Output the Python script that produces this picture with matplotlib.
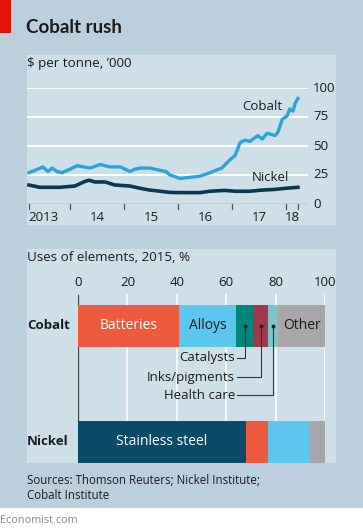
import numpy as np
import matplotlib
matplotlib.use("Agg")
import matplotlib.pyplot as plt
from matplotlib.patches import Rectangle

plt.rcParams["font.family"] = ["Open Sans", "DejaVu Sans"]

# prices, $ per tonne '000 (decimal year, value)
cobalt_t = [2013.24, 2013.35, 2013.50, 2013.59, 2013.67, 2013.76, 2013.85, 2014.00, 2014.13,
            2014.25, 2014.37, 2014.56, 2014.74, 2014.93, 2015.02, 2015.11, 2015.20, 2015.30,
            2015.48, 2015.67, 2015.78, 2015.85, 2016.04, 2016.22, 2016.41, 2016.59, 2016.81,
            2016.96, 2017.06, 2017.15, 2017.24, 2017.33, 2017.48, 2017.56, 2017.65, 2017.80,
            2017.85, 2017.93, 2018.02, 2018.07, 2018.13, 2018.17, 2018.22]
cobalt_v = [27, 29, 32, 28, 31, 28, 27, 30, 33,
            32, 31, 34, 32, 32, 30, 28, 30, 31,
            31, 29, 28, 25, 22, 23, 24, 27, 31,
            38, 42, 53, 55, 54, 59, 56, 61, 59,
            62, 73, 76, 82, 80, 87, 91]
nickel_t = [2013.24, 2013.44, 2013.81, 2014.09, 2014.28, 2014.35, 2014.46, 2014.65, 2014.83,
            2015.11, 2015.30, 2015.48, 2015.67, 2015.85, 2016.04, 2016.22, 2016.41, 2016.59,
            2016.87, 2017.06, 2017.33, 2017.56, 2017.80, 2017.98, 2018.22]
nickel_v = [16.4, 14.4, 14.4, 15.5, 19.5, 20.5, 19, 19, 16.4,
            15.5, 13.5, 12, 11, 10, 9.8, 9.8, 9.8, 11,
            11.7, 11, 11, 12, 12.6, 13.5, 14.4]
year_ticks = [2013.24, 2014, 2015, 2016, 2017, 2018, 2018.22]
year_labels = ["2013", "14", "15", "16", "17", "18"]
year_label_pos = [2013.5, 2014.5, 2015.5, 2016.5, 2017.5, 2018.11]
price_ticks = [0, 25, 50, 75, 100]

# uses of elements, 2015, %
cobalt_uses = ["Batteries", "Alloys", "Catalysts", "Inks/pigments", "Health care", "Other"]
cobalt_share = [41, 23, 7, 6, 4, 19]
nickel_uses = ["Stainless steel", "Batteries", "Alloys", "Other"]
nickel_share = [68, 9, 17, 6]
pct_ticks = [0, 20, 40, 60, 80, 100]

colors = {"Batteries": "#ee5a3e", "Alloys": "#5dc6ee", "Catalysts": "#00857a",
          "Inks/pigments": "#a3374b", "Health care": "#7cc5c9", "Other": "#a7a6a8",
          "Stainless steel": "#0c4b68"}
OUTER = "#bbd0dc"
INNER = "#cfdfe8"
TXT = "#1a1a1a"

W, H = 363, 531
fig = plt.figure(figsize=(W / 100, H / 100), dpi=100)
fig.patch.set_facecolor("white")


def box(x0, y0, x1, y1):
    return [x0 / W, 1 - y1 / H, (x1 - x0) / W, (y1 - y0) / H]


# layout layer in pixel coordinates
bg = fig.add_axes([0, 0, 1, 1])
bg.set_xlim(0, W); bg.set_ylim(H, 0); bg.axis("off")
bg.add_patch(Rectangle((0, 0), W, 508, color=OUTER, lw=0))
bg.add_patch(Rectangle((27, 55), 309, 170, color=INNER, lw=0))
bg.add_patch(Rectangle((27, 249), 309, 214, color=INNER, lw=0))
bg.add_patch(Rectangle((0, 0), 11, 33, color="#e3120b", lw=0))
bg.text(26, 33, "Cobalt rush", fontsize=13.5, fontweight="bold", color=TXT, va="baseline",
        family=["Lato", "DejaVu Sans"])
bg.text(27, 67, "$ per tonne, \u2019000", fontsize=9.6, color=TXT, va="baseline")
bg.text(27, 261, "Uses of elements, 2015, %", fontsize=9.6, color=TXT, va="baseline")
bg.text(27, 484, "Sources: Thomson Reuters; Nickel Institute;", fontsize=8.3, color=TXT,
        va="baseline")
bg.text(27, 499, "Cobalt Institute", fontsize=8.3, color=TXT, va="baseline")
bg.text(0, 523, "Economist.com", fontsize=7.8, color="#8a8a8a", va="baseline")

# line chart
ax = fig.add_axes(box(27, 88, 308, 204))
ax.set_facecolor("none")
ax.set_xlim(2013.204, 2018.407)
ax.set_ylim(0, 100)
for s in ax.spines.values():
    s.set_visible(False)
ax.set_xticks([]); ax.set_yticks([])
for v in price_ticks[1:]:
    ax.axhline(v, color="white", lw=1.4, zorder=1)
ax.axhline(0, color="#555555", lw=0.9, zorder=1)
for t in year_ticks:
    ax.plot([t, t], [0, -4.5], color="#555555", lw=0.9, clip_on=False)
for v in price_ticks:
    ax.text(1.018, v, str(v), transform=ax.get_yaxis_transform(), fontsize=9.5,
            color=TXT, va="center", ha="left")
for lab, p in zip(year_labels, year_label_pos):
    ax.text(p, -12, lab, fontsize=9.5, color=TXT, ha="center", va="center")
ax.plot(cobalt_t, cobalt_v, color="#2aa4d9", lw=2.4, zorder=3, clip_on=False,
        solid_joinstyle="round")
ax.plot(nickel_t, nickel_v, color="#0b3a50", lw=2.6, zorder=3, clip_on=False,
        solid_joinstyle="round")
ax.text(2017.93, 84, "Cobalt", fontsize=9.5, color=TXT, ha="right", va="center")
ax.text(2018.06, 22.5, "Nickel", fontsize=9.5, color=TXT, ha="right", va="center")

# bar chart
bx = fig.add_axes(box(78, 290, 325, 463))
bx.set_facecolor("none")
bx.set_xlim(0, 100)
bx.set_ylim(1.181, -0.31)
for s in bx.spines.values():
    s.set_visible(False)
bx.set_xticks([]); bx.set_yticks([])
for t in pct_ticks[1:]:
    bx.axvline(t, ymin=0, ymax=0.97, color="white", lw=1.2, zorder=0)
bx.axvline(0, ymin=0, ymax=0.97, color="#444444", lw=0.9, zorder=0)
for t in pct_ticks:
    bx.text(t, -0.345, str(t), fontsize=9.5, color=TXT, ha="center", va="baseline")

bh = 0.362
left = 0
centres = {}
for name, val in zip(cobalt_uses, cobalt_share):
    bx.barh(0, val, left=left, height=bh, color=colors[name], lw=0, zorder=2)
    centres[name] = left + val / 2
    left += val
left = 0
for name, val in zip(nickel_uses, nickel_share):
    bx.barh(1, val, left=left, height=bh, color=colors[name], lw=0, zorder=2)
    if name == "Stainless steel":
        bx.text(left + val / 2, 1, name, fontsize=10, color="white", ha="center", va="center")
    left += val

bx.text(centres["Batteries"], 0, "Batteries", fontsize=10, color="white", ha="center", va="center")
bx.text(centres["Alloys"], 0, "Alloys", fontsize=10, color=TXT, ha="center", va="center")
bx.text(centres["Other"], 0, "Other", fontsize=10, color=TXT, ha="center", va="center")

for name, ly in zip(["Catalysts", "Inks/pigments", "Health care"], [0.276, 0.44, 0.595]):
    cx = centres[name]
    bx.plot([cx, cx, 64.4], [0, ly, ly], color="#333333", lw=0.8, zorder=3)
    bx.plot(cx, 0, "o", ms=1.8, color="#222222", zorder=4)
    bx.text(63.6, ly, name, fontsize=9.5, color=TXT, ha="right", va="center")

bx.text(-51 / 2.47, 0, "Cobalt", fontsize=9.5, fontweight="bold", color=TXT, ha="left", va="center")
bx.text(-51 / 2.47, 1, "Nickel", fontsize=9.5, fontweight="bold", color=TXT, ha="left", va="center")

fig.savefig("out.png", dpi=100)
